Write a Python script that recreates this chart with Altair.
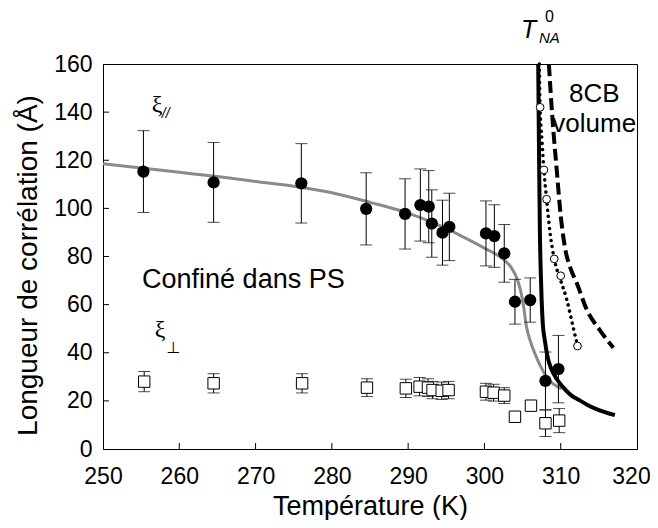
import altair as alt
import pandas as pd

# xi parallel (filled circles), confined in PS
par_T = [255.3, 264.5, 276.0, 284.5, 289.6, 291.6, 292.7, 293.1, 294.5, 295.4, 300.2, 301.3, 302.6, 304.0, 306.0, 308.0, 309.7]
par_xi = [115.3, 110.8, 110.4, 99.8, 97.7, 101.4, 100.7, 93.7, 89.9, 92.3, 89.6, 88.5, 81.3, 61.2, 61.9, 28.3, 33.2]
par_err = [17.0, 16.6, 16.5, 15.0, 14.6, 15.0, 15.0, 14.0, 13.5, 14.0, 13.5, 13.0, 12.0, 9.3, 9.2, 12.0, 14.0]

# xi perpendicular (open squares)
perp_T = [255.4, 264.5, 276.1, 284.6, 289.7, 291.5, 292.6, 293.2, 294.4, 295.3, 300.2, 301.2, 302.6, 304.0, 306.1, 308.0, 309.8]
perp_xi = [28.0, 27.3, 27.3, 25.5, 25.2, 25.9, 25.5, 24.5, 24.2, 24.5, 23.8, 23.4, 22.2, 13.4, 18.0, 10.7, 11.8]
perp_err = [4.2, 4.0, 4.0, 3.7, 3.8, 3.8, 3.7, 3.6, 3.6, 3.6, 3.5, 3.5, 3.3, 0.0, 1.0, 5.5, 5.0]

# grey fit curve through the confined data
fit_T = [250, 255, 260, 265, 270, 275, 280, 285, 290, 294, 297, 300, 302.6, 303.5, 304.3, 304.8, 305.1, 305.5, 306.0, 306.7, 307.5, 308.5, 309.3, 310.1]
fit_xi = [118.5, 116.8, 115.0, 113.2, 111.2, 109.2, 106.5, 102.5, 98.0, 93.0, 88.5, 83.5, 78.5, 75.5, 70.5, 65.0, 60.0, 51.0, 45.0, 39.0, 33.5, 28.5, 26.5, 25.0]

# bulk 8CB solid curve
bulk_T = [307.05, 307.15, 307.27, 307.4, 307.5, 307.65, 307.9, 308.3, 308.8, 309.5, 310.3, 311.3, 312.5, 313.5, 315.0, 317.1]
bulk_xi = [160.0, 125.0, 90.0, 72.0, 62.0, 52.0, 45.5, 38.0, 33.0, 29.0, 25.7, 22.5, 20.2, 18.3, 16.2, 14.1]

# bulk 8CB dotted curve with open circles
dot_T = [307.2, 307.3, 307.55, 307.8, 308.15, 308.6, 309.15, 310.0, 310.8, 311.6, 312.2]
dot_xi = [160.0, 142.0, 128.0, 116.0, 103.8, 90.0, 79.0, 70.0, 62.0, 51.0, 43.0]
ocirc_T = [307.3, 307.8, 308.15, 309.15, 310.0, 312.2]
ocirc_xi = [142.0, 116.0, 103.8, 79.0, 72.0, 42.8]

# bulk 8CB dashed curve
dash_T = [308.45, 308.9, 309.45, 310.0, 310.6, 311.3, 312.1, 313.4, 315.1, 316.9]
dash_xi = [160.0, 138.0, 117.0, 97.0, 83.0, 75.0, 69.0, 58.0, 49.5, 42.1]

x_ticks = [250, 260, 270, 280, 290, 300, 310, 320]
y_ticks = [0, 20, 40, 60, 80, 100, 120, 140, 160]
x_inner = [260, 270, 280, 290, 300, 310]
y_inner = [20, 40, 60, 80, 100, 120, 140]

FONT = "Liberation Sans"
W, H = 534, 385

xscale = alt.Scale(domain=[250, 320], nice=False, zero=False)
yscale = alt.Scale(domain=[0, 160], nice=False, zero=False)
xaxis = alt.Axis(values=x_ticks, tickSize=0, labelFontSize=23, labelFont=FONT, labelColor="black",
                 labelPadding=16, labelFlush=False, labelOverlap=False, grid=False,
                 labelOffset={"condition": {"test": "datum.value == 320", "value": -6}, "value": 0},
                 domainColor="black", domainWidth=1,
                 title="Température (K)", titleFont=FONT, titleFontSize=27, titleFontWeight="normal",
                 titleColor="black", titleX=W / 2, titleY=57, titleAlign="center", titleBaseline="middle")
yaxis = alt.Axis(values=y_ticks, tickSize=0, labelFontSize=23, labelFont=FONT, labelColor="black",
                 labelPadding=11, labelFlush=False, labelOverlap=False, grid=False,
                 domainColor="black", domainWidth=1,
                 title="Longueur de corrélation (Å)", titleFont=FONT, titleFontSize=28, titleFontWeight="normal",
                 titleColor="black", titleX=-75, titleY=201, titleAngle=270, titleAlign="center",
                 titleBaseline="middle")


def X(f):
    return alt.X(f"{f}:Q", scale=xscale, axis=xaxis)


def Y(f):
    return alt.Y(f"{f}:Q", scale=yscale, axis=yaxis)


par = pd.DataFrame({"T": par_T, "v": par_xi,
                    "lo": [a - b for a, b in zip(par_xi, par_err)],
                    "hi": [a + b for a, b in zip(par_xi, par_err)]})
perp = pd.DataFrame({"T": perp_T, "v": perp_xi,
                     "lo": [a - b for a, b in zip(perp_xi, perp_err)],
                     "hi": [a + b for a, b in zip(perp_xi, perp_err)]})
fit = pd.DataFrame({"T": fit_T, "v": fit_xi})
bulk = pd.DataFrame({"T": bulk_T, "v": bulk_xi})
dot = pd.DataFrame({"T": dot_T, "v": dot_xi})
oc = pd.DataFrame({"T": ocirc_T, "v": ocirc_xi})
dash = pd.DataFrame({"T": dash_T, "v": dash_xi})

fit_line = alt.Chart(fit).mark_line(color="#8a8a8a", strokeWidth=3, interpolate="monotone").encode(
    x=X("T"), y=Y("v"))
err_par = alt.Chart(par).mark_errorbar(ticks=True, size=12, thickness=1, color="black").encode(
    x=X("T"), y=Y("lo"), y2=alt.Y2("hi"))
err_perp = alt.Chart(perp).mark_errorbar(ticks=True, size=12, thickness=1, color="black").encode(
    x=X("T"), y=Y("lo"), y2=alt.Y2("hi"))
bulk_line = alt.Chart(bulk).mark_line(color="black", strokeWidth=4, interpolate="monotone").encode(
    x=X("T"), y=Y("v"))
dot_line = alt.Chart(dot).mark_line(color="black", strokeWidth=3.5, strokeDash=[0.1, 6], strokeCap="round",
                                     interpolate="monotone").encode(x=X("T"), y=Y("v"))
dash_line = alt.Chart(dash).mark_line(color="black", strokeWidth=4, strokeDash=[12, 5],
                                       interpolate="monotone").encode(x=X("T"), y=Y("v"))
par_pts = alt.Chart(par).mark_point(shape="circle", filled=True, size=150, color="black", opacity=1).encode(
    x=X("T"), y=Y("v"))
perp_pts = alt.Chart(perp).mark_point(shape="square", filled=True, size=130, fill="white", stroke="black",
                                      strokeWidth=1, opacity=1).encode(x=X("T"), y=Y("v"))
oc_pts = alt.Chart(oc).mark_point(shape="circle", filled=True, size=60, fill="white", stroke="black",
                                  strokeWidth=1, opacity=1).encode(x=X("T"), y=Y("v"))

xt = alt.Chart(pd.DataFrame({"t": x_inner})).mark_rule(color="black", strokeWidth=1).encode(
    x=X("t"), y=alt.value(H), y2=alt.value(H - 6))
yt = alt.Chart(pd.DataFrame({"t": y_inner})).mark_rule(color="black", strokeWidth=1).encode(
    y=Y("t"), x=alt.value(0), x2=alt.value(6))

# annotations
ann_sans = pd.DataFrame({"T": [268.4, 314.4, 314.4], "v": [66.8, 144.3, 131.9],
                         "label": ["Confiné dans PS", "8CB", "volume"], "fs": [27, 26, 26]})
ann_sans_c = alt.Chart(ann_sans).mark_text(font=FONT, color="black", align="center", baseline="alphabetic").encode(
    x=X("T"), y=Y("v"), text="label:N", size=alt.Size("fs:Q", scale=None, legend=None))

xi = pd.DataFrame({"T": [257.1, 257.5], "v": [140.1, 46.6], "label": ["ξ", "ξ"]})
xi_c = alt.Chart(xi).mark_text(font="Liberation Serif", fontSize=24, color="black", align="center",
                               baseline="alphabetic").encode(x=X("T"), y=Y("v"), text="label:N")
sub_par = alt.Chart(pd.DataFrame({"T": [257.7], "v": [137.6], "label": ["//"]})).mark_text(
    font=FONT, fontSize=14, fontStyle="italic", color="black", align="left", baseline="alphabetic").encode(
    x=X("T"), y=Y("v"), text="label:N")
sub_perp = alt.Chart(pd.DataFrame({"T": [259.24], "v": [39.9], "label": ["⊥"]})).mark_text(
    font="DejaVu Sans", fontSize=16, color="black", align="center", baseline="alphabetic").encode(
    x=X("T"), y=Y("v"), text="label:N")

tna = pd.DataFrame({"T": [305.8, 307.14, 307.93], "v": [170.7, 168.6, 177.6],
                    "label": ["T", "NA", "0"]})
tna_T = alt.Chart(tna.iloc[[0]]).mark_text(
    font=FONT, fontSize=25, fontStyle="italic", color="black", align="center", baseline="alphabetic").encode(
    x=X("T"), y=Y("v"), text="label:N")
tna_sub = alt.Chart(tna.iloc[[1]]).mark_text(
    font=FONT, fontSize=15, fontStyle="italic", color="black", align="left", baseline="alphabetic").encode(
    x=X("T"), y=Y("v"), text="label:N")
tna_sup = alt.Chart(tna.iloc[[2]]).mark_text(
    font=FONT, fontSize=16, color="black", align="left", baseline="alphabetic").encode(
    x=X("T"), y=Y("v"), text="label:N")

chart = alt.layer(
    fit_line, err_par, err_perp, bulk_line, dot_line, dash_line,
    par_pts, perp_pts, oc_pts, xt, yt,
    ann_sans_c, xi_c, sub_par, sub_perp, tna_T, tna_sub, tna_sup
).properties(
    width=W, height=H,
    autosize=alt.AutoSizeParams(type="none"),
    padding={"left": 95, "top": 56, "right": 13, "bottom": 71},
    background="white",
).configure_view(stroke="black", strokeWidth=1)

chart.save("out.html", embed_options={"renderer": "svg", "actions": False})
